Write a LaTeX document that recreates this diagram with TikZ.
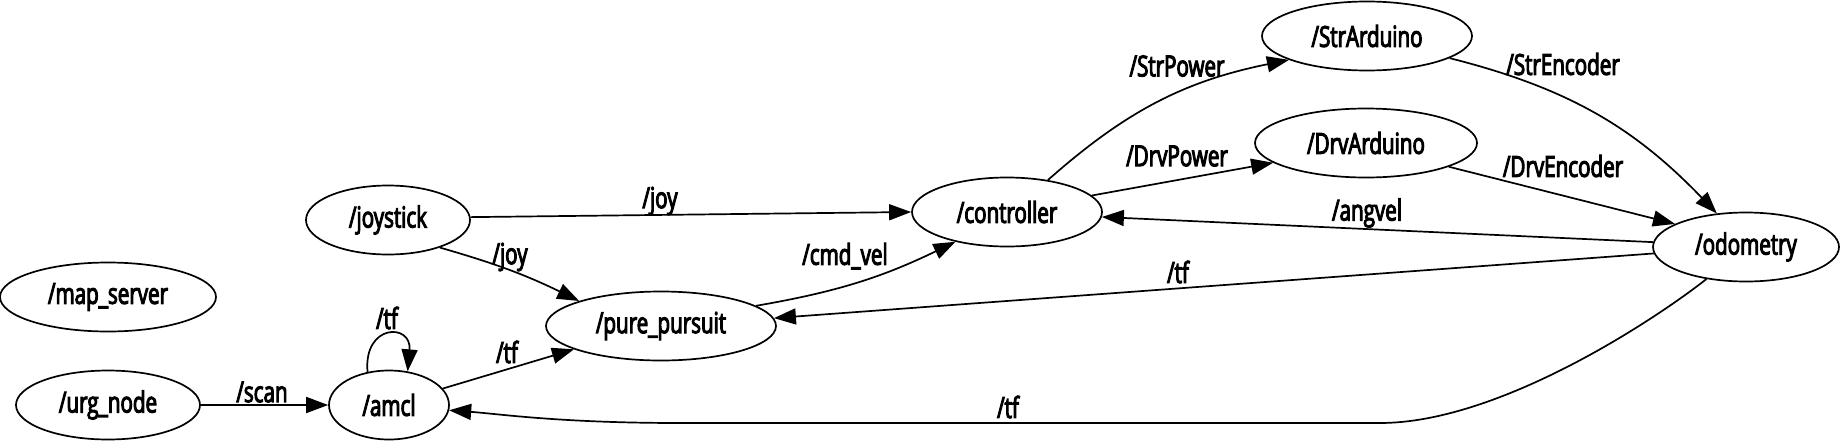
\documentclass[tikz,border=0pt]{standalone}
\usepackage{fontspec}
\setmainfont{Open Sans}[FakeStretch=0.71, RawFeature={embolden=3.5}]
\usetikzlibrary{shapes.geometric,arrows.meta}

\begin{document}
\begin{tikzpicture}[x=1pt, y=-1pt, line width=1.7pt]
\tikzstyle{sommet} = [ellipse, draw=black, inner sep=0pt, minimum height=69pt, font=\fontsize{29}{31}\selectfont]
\tikzstyle{etiquette} = [inner sep=0pt, font=\fontsize{29}{31}\selectfont]
\tikzstyle{fleche} = [-{Triangle[length=22pt,width=16pt]}]
\useasboundingbox (0,0) rectangle (1841,442);
% noeuds
\node[sommet, minimum width=216pt] (map) at (108,297) {/map\_server};
\node[sommet, minimum width=184pt] (urg) at (108,405) {/urg\_node};
\node[sommet, minimum width=120pt] (amcl) at (389,405) {/amcl};
\node[sommet, minimum width=164pt] (joy) at (388,220) {/joystick};
\node[sommet, minimum width=230pt] (pure) at (661,326) {/pure\_pursuit};
\node[sommet, minimum width=190pt] (ctrl) at (1007,212) {/controller};
\node[sommet, minimum width=210pt] (str) at (1367,36) {/StrArduino};
\node[sommet, minimum width=222pt] (drv) at (1366,143) {/DrvArduino};
\node[sommet, minimum width=186pt] (odo) at (1746,247) {/odometry};
% topics
\draw[fleche] (urg.east) -- (amcl.west) node[etiquette] at (262,392) {/scan};
\draw[fleche] (amcl.123) to[out=95, in=85, looseness=3.1] (amcl.61) node[etiquette] at (387,318) {/tf};
\draw[fleche] (amcl.17) -- (pure.195) node[etiquette] at (507,352) {/tf};
\draw[fleche] (joy.2) -- (ctrl.west) node[etiquette] at (660,201) {/joy};
\draw[fleche] (joy.-28) to[bend left=5] (pure.163) node[etiquette] at (510,257) {/joy};
\draw[fleche] (pure.12) to[bend right=8] (ctrl.210) node[etiquette] at (845,256) {/cmd\_vel};
\draw[fleche] (ctrl.38) to[bend left=15] (str.197) node[etiquette] at (1177,66) {/StrPower};
\draw[fleche] (ctrl.11) -- (drv.192) node[etiquette] at (1177,156) {/DrvPower};
\draw[fleche] (str.-15) to[bend left=16] (odo.131) node[etiquette] at (1563,64) {/StrEncoder};
\draw[fleche] (drv.-16) -- (odo.162) node[etiquette] at (1563,166) {/DrvEncoder};
\draw[fleche] (odo.177) -- (ctrl.-3) node[etiquette] at (1367,213) {/angvel};
\draw[fleche] (odo.184) -- (pure.4) node[etiquette] at (1178,272) {/tf};
\draw[fleche] (odo.219) .. controls (1657,318) and (1500,423) .. (1380,423) -- (680,423)
  .. controls (560,423) and (500,414) .. (amcl.-5) node[etiquette] at (1008,407) {/tf};
\end{tikzpicture}
\end{document}
